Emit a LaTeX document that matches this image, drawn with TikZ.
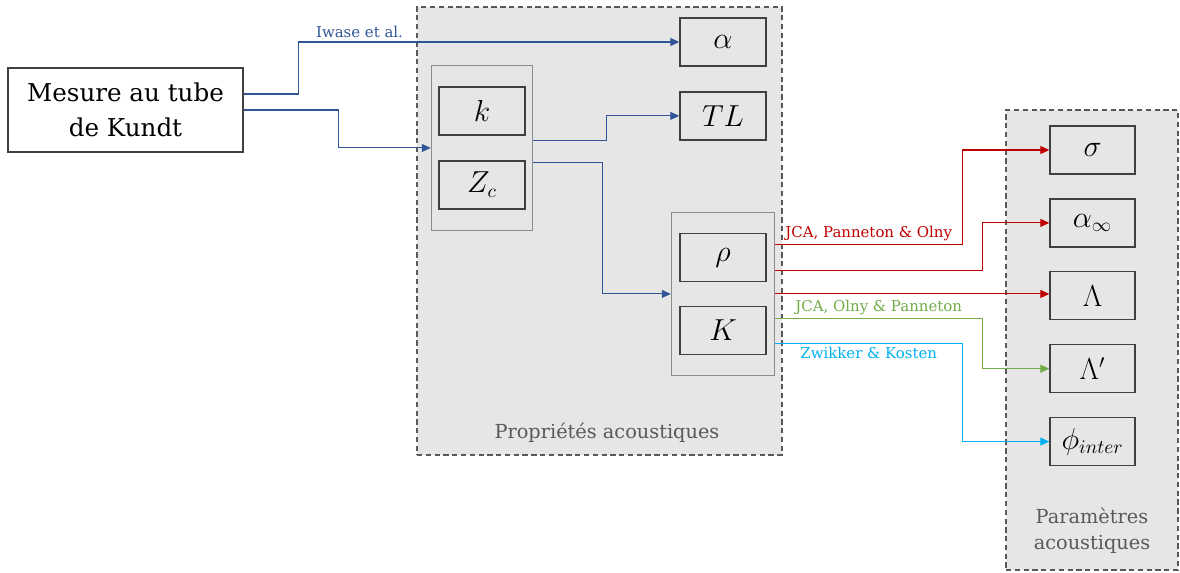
\documentclass[tikz,border=0pt]{standalone}
\usepackage{amsmath}
\usepackage{fontspec}
\setmainfont{DejaVu Serif}
\usetikzlibrary{arrows.meta,positioning,fit}
\definecolor{propgrey}{RGB}{231,230,230}
\definecolor{framegrey}{RGB}{89,89,89}
\definecolor{groupgrey}{RGB}{140,140,140}
\definecolor{linkblue}{RGB}{47,85,151}
\definecolor{linkred}{RGB}{192,0,0}
\definecolor{linkgreen}{RGB}{112,173,71}
\definecolor{linkcyan}{RGB}{0,176,240}

\begin{document}
\begin{tikzpicture}[
    x=0.02cm, y=-0.02cm,
    qty/.style={rectangle, draw=black!75, line width=0.8pt,
        minimum width=1.72cm, minimum height=0.96cm, inner sep=0pt,
        font=\fontsize{16}{19}\selectfont},
    boxgroup/.style={rectangle, draw=groupgrey, line width=0.6pt, inner sep=0pt},
    propframe/.style={rectangle, draw=framegrey, fill=propgrey,
        dash pattern=on 3pt off 2pt, line width=0.8pt, inner sep=0pt},
    framelbl/.style={text=framegrey, font=\fontsize{11}{15}\selectfont, align=center},
    link/.style={->, line width=0.6pt},
    lbl/.style={font=\fontsize{8.5}{10}\selectfont, inner sep=2pt},
    >={Triangle[length=0.18cm, width=0.16cm]},
    node distance=0.47cm
]
\useasboundingbox (0,0) rectangle (1180,572);

\node[propframe, minimum width=7.3cm, minimum height=8.96cm] (props) at (599.5,231) {};
\node[propframe, minimum width=3.44cm, minimum height=9.2cm] (params) at (1092,340) {};
\node[framelbl] (propslbl) at (607,433) {Propriétés acoustiques};
\node[framelbl] (paramslbl) at (1092,531) {Paramètres\\acoustiques};

\node[draw=black!75, line width=0.8pt, minimum width=4.7cm, minimum height=1.68cm,
    align=center, font=\fontsize{14}{20}\selectfont] (tube) at (125.5,110) {Mesure au tube\\de Kundt};

\node[qty] (alpha) at (723,42) {$\alpha$};
\node[qty, below=0.49cm of alpha] (tl) {$TL$};
\node[qty] (k) at (482,111) {$k$};
\node[qty, below=0.49cm of k] (zc) {$Z_c$};
\node[qty] (rho) at (723,257.5) {$\rho$};
\node[qty, below=0.47cm of rho] (kb) {$K$};
\node[boxgroup, fit=(k)(zc), inner xsep=0.14cm, inner ysep=0.42cm] (kzgroup) {};
\node[boxgroup, fit=(rho)(kb), inner xsep=0.16cm, inner ysep=0.4cm] (rhogroup) {};

\node[qty, minimum width=1.7cm] (sigma) at (1092.5,150) {$\sigma$};
\node[qty, minimum width=1.7cm, below=of sigma] (alphainf) {$\alpha_\infty$};
\node[qty, minimum width=1.7cm, below=of alphainf] (lambda) {$\Lambda$};
\node[qty, minimum width=1.7cm, below=of lambda] (lambdap) {$\Lambda'$};
\node[qty, minimum width=1.7cm, below=of lambdap] (phi) {$\phi_{inter}$};

\draw[link, linkblue] ([yshift=0.32cm]tube.east) -- ++(1.1cm,0)
    |- node[lbl, above, pos=0.58, text=linkblue] {Iwase et al.} (alpha.west);
\draw[link, linkblue] (tube.east) -- ++(1.9cm,0) |- (kzgroup.west);
\draw[link, linkblue] ([yshift=0.14cm]kzgroup.east) -- ++(1.46cm,0) |- (tl.west);
\draw[link, linkblue] ([yshift=-0.3cm]kzgroup.east) -- ++(1.38cm,0) |- (rhogroup.west);

\draw[link, linkred] ([yshift=0.99cm]rhogroup.east)
    -- node[lbl, above, text=linkred] {JCA, Panneton \& Olny} ++(3.74cm,0) |- (sigma.west);
\draw[link, linkred] ([yshift=0.47cm]rhogroup.east) -- ++(4.14cm,0) |- (alphainf.west);
\draw[link, linkred] (rhogroup.east) -- (rhogroup.east -| lambda.west);
\draw[link, linkgreen] ([yshift=-0.49cm]rhogroup.east)
    -- node[lbl, above, text=linkgreen] {JCA, Olny \& Panneton} ++(4.14cm,0) |- (lambdap.west);
\draw[link, linkcyan] ([yshift=-0.99cm]rhogroup.east)
    -- node[lbl, below, text=linkcyan] {Zwikker \& Kosten} ++(3.74cm,0) |- (phi.west);
\end{tikzpicture}
\end{document}
